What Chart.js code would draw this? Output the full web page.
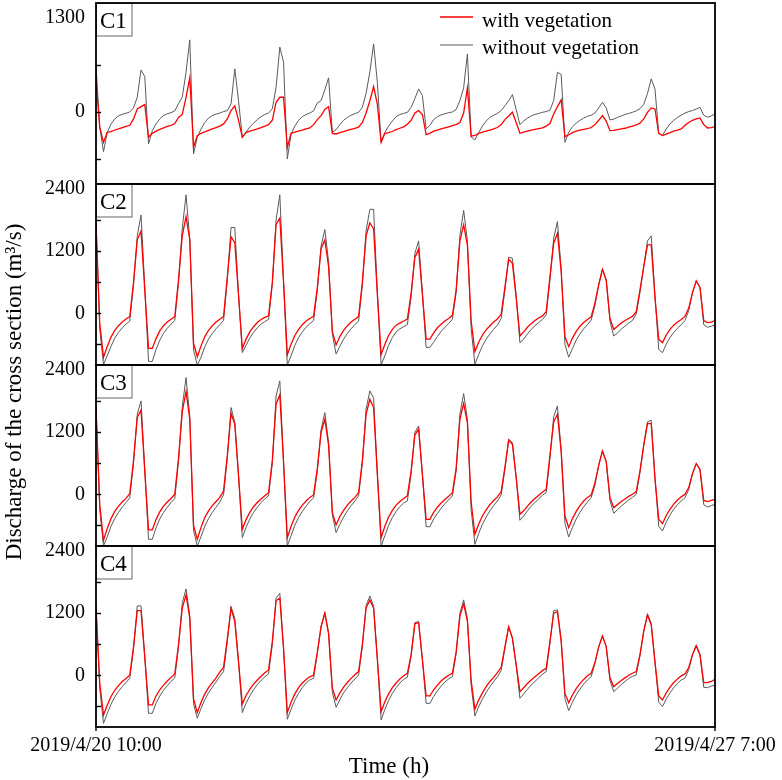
<!DOCTYPE html>
<html><head><meta charset="utf-8">
<script src="https://cdn.jsdelivr.net/npm/chart.js@4.4.0/dist/chart.umd.min.js"></script>
<style>html,body{margin:0;padding:0;background:#fff;} #wrap{position:relative;width:782px;height:780px;}</style>
</head><body><div id="wrap"><canvas id="c"></canvas></div>
<script>
const FONT = "'Liberation Serif', 'Times New Roman', serif";
const hours = []; for (let i = 0; i <= 165; i++) hours.push(i);
const xTickValues = [0, 165];
const xTickLabels = ['2019/4/20 10:00', '2019/4/27 7:00'];
const panelNames = ['C1', 'C2', 'C3', 'C4'];
const seriesNames = ['with vegetation', 'without vegetation'];
const c1Ticks = [-650, 0, 650, 1300];
const c1Labeled = [0, 1300];
const cTicks = [-600, 0, 600, 1200, 1800, 2400];
const cLabeled = [0, 1200, 2400];
const c1Range = [-1000, 1500];
const cRange = [-1000, 2500];
const yTitle = 'Discharge of the cross section (m\u00B3/s)';
const xTitle = 'Time (h)';

const R1 = [429,-217,-424,-286,-277,-254,-240,-221,-203,-189,
-101,37,69,97,-355,-300,-270,-245,-225,-205,
-190,-165,-80,-40,198,466,-493,-332,-300,-280,
-260,-240,-220,-200,-170,-101,14,78,-120,-355,
-290,-270,-255,-240,-220,-200,-180,-120,129,198,
198,-493,-300,-285,-270,-255,-240,-225,-180,-110,
-55,30,69,-300,-309,-290,-275,-260,-245,-230,
-215,-150,-20,150,346,100,-424,-300,-290,-275,
-250,-230,-210,-175,-120,-20,14,-40,-318,-300,
-270,-255,-240,-225,-210,-195,-180,-150,-20,327,
-340,-330,-300,-285,-270,-255,-240,-220,-180,-110,
-60,-9,-150,-300,-285,-270,-255,-245,-235,-225,
-200,-165,-32,69,161,-346,-320,-290,-270,-255,
-245,-235,-220,-180,-120,-55,-130,-263,-260,-250,
-240,-230,-215,-200,-185,-160,-100,-10,51,37,
-300,-330,-310,-290,-270,-255,-240,-190,-150,-120,
-100,-88,-180,-226,-220,-207];
const G1 = [636,-217,-553,-286,-171,-101,-60,-37,-23,-5,
50,200,576,484,-447,-263,-171,-101,-55,-30,
-15,10,110,200,544,991,-585,-355,-240,-150,
-90,-55,-35,-20,0,14,106,590,150,-355,
-286,-210,-160,-110,-70,-40,-20,40,336,890,
682,-655,-309,-200,-120,-70,-40,-20,10,120,
152,300,466,-286,-250,-180,-120,-80,-50,-30,
-10,60,250,550,936,400,-424,-286,-200,-130,
-70,-40,-25,-10,60,180,313,221,-240,-190,
-110,-70,-45,-30,-15,-5,30,150,330,797,
-350,-392,-290,-200,-130,-80,-50,-25,14,80,
150,235,30,-180,-130,-90,-60,-40,-25,-10,
0,20,152,544,512,-424,-286,-210,-160,-120,
-90,-65,-50,-20,50,129,50,-115,-105,-80,
-60,-40,-25,-10,10,40,100,250,452,313,
-300,-330,-240,-170,-120,-80,-50,-20,0,15,
35,60,-50,-78,-60,-32];
const R2 = [1750,-200,-850,-640,-460,-330,-240,-170,-110,-65,
600,1420,1590,450,-680,-680,-490,-340,-240,-170,
-115,-65,650,1500,1870,1420,-580,-840,-630,-450,
-330,-240,-170,-115,-65,700,1480,1360,340,-680,
-500,-360,-260,-180,-120,-80,-50,600,1720,1840,
600,-800,-600,-430,-310,-220,-150,-100,-60,500,
1250,1420,900,-350,-610,-450,-330,-240,-170,-115,
-65,600,1500,1750,1630,360,-800,-600,-430,-310,
-230,-190,-150,-110,390,1080,1240,370,-500,-500,
-380,-280,-210,-150,-100,-40,450,1400,1710,1320,
-150,-740,-560,-420,-320,-240,-170,-110,-15,500,
1045,968,300,-440,-360,-270,-200,-140,-90,-50,
30,700,1355,1548,800,-450,-645,-480,-350,-250,
-180,-120,-70,200,550,851,640,-100,-310,-250,
-190,-140,-100,-60,30,450,900,1322,1322,300,
-500,-568,-420,-310,-230,-170,-120,-60,100,400,
626,500,-140,-180,-170,-142];
const G2 = [1750,-300,-990,-820,-640,-480,-370,-280,-210,-150,
550,1500,1900,500,-930,-930,-700,-520,-390,-290,
-210,-140,600,1650,2290,1420,-710,-1000,-850,-650,
-500,-390,-300,-220,-140,650,1660,1660,360,-760,
-620,-480,-370,-280,-210,-160,-120,560,1800,2290,
600,-1000,-820,-620,-470,-360,-270,-200,-140,450,
1300,1620,1000,-400,-790,-640,-500,-390,-300,-220,
-150,550,1600,2010,2010,400,-1000,-820,-620,-470,
-360,-300,-260,-220,320,1160,1400,390,-660,-660,
-560,-450,-350,-270,-200,-115,400,1500,1990,1400,
-300,-985,-800,-630,-500,-400,-310,-230,-100,450,
1084,1064,350,-570,-500,-400,-310,-240,-180,-120,
-30,650,1450,1774,850,-600,-850,-680,-520,-400,
-300,-220,-130,150,550,851,640,-150,-440,-380,
-310,-250,-190,-140,-15,400,900,1400,1496,350,
-700,-761,-600,-470,-370,-290,-220,-140,50,400,
626,500,-220,-271,-250,-226];
const R3 = [1680,-200,-890,-660,-470,-330,-230,-150,-80,10,
650,1484,1625,450,-690,-690,-490,-340,-230,-150,
-80,0,700,1600,1987,1450,-600,-870,-640,-450,
-320,-220,-140,-60,60,750,1561,1355,350,-677,
-490,-350,-240,-160,-90,-30,30,650,1742,1922,
600,-838,-620,-440,-310,-210,-130,-60,-13,500,
1200,1451,950,-350,-593,-430,-310,-210,-130,-60,
30,650,1550,1838,1677,380,-838,-620,-440,-310,
-210,-140,-80,-30,450,1150,1258,380,-484,-484,
-350,-250,-170,-100,-40,30,500,1450,1754,1380,
-150,-774,-580,-420,-300,-200,-120,-50,50,520,
1045,968,320,-387,-320,-230,-150,-80,-20,40,
97,750,1400,1548,820,-420,-645,-470,-330,-220,
-130,-60,-13,220,560,838,630,-60,-258,-200,
-140,-90,-40,0,52,450,950,1367,1367,300,
-480,-568,-410,-290,-190,-110,-50,0,130,400,
593,480,-120,-142,-120,-97];
const G3 = [1700,-300,-1000,-820,-620,-470,-350,-250,-160,-70,
600,1550,1806,480,-870,-870,-650,-480,-350,-250,
-160,-80,650,1700,2258,1500,-700,-1000,-820,-620,
-470,-350,-250,-150,-10,700,1677,1387,360,-838,
-640,-480,-350,-250,-160,-90,-30,600,1900,2193,
620,-1000,-800,-600,-450,-330,-230,-140,-65,450,
1250,1580,1000,-400,-742,-580,-440,-320,-220,-130,
-30,600,1650,2000,1858,400,-1000,-800,-600,-450,
-330,-240,-170,-129,400,1200,1322,390,-626,-626,
-480,-370,-270,-180,-110,-32,450,1550,1948,1450,
-300,-968,-760,-580,-440,-320,-220,-130,-13,480,
1064,1000,340,-503,-420,-320,-230,-160,-90,-20,
32,700,1500,1709,850,-560,-826,-640,-480,-350,
-240,-150,-65,180,560,838,630,-120,-368,-300,
-230,-170,-110,-60,0,420,950,1400,1432,330,
-620,-710,-540,-400,-290,-200,-130,-65,90,400,
593,480,-200,-245,-220,-194];
const R4 = [1330,-150,-768,-580,-410,-290,-200,-120,-60,0,
550,1251,1251,350,-574,-574,-400,-280,-190,-110,
-40,26,600,1300,1554,1100,-450,-722,-520,-360,
-240,-140,-50,60,155,700,1296,1038,250,-555,
-390,-270,-170,-90,-20,50,103,650,1445,1490,
500,-722,-520,-360,-240,-150,-80,-30,6,450,
940,1200,800,-250,-477,-340,-230,-140,-60,10,
71,600,1300,1458,1296,300,-703,-510,-360,-240,
-150,-70,-10,39,400,1000,1019,300,-400,-400,
-280,-190,-110,-50,0,39,450,1150,1380,1050,
-100,-658,-480,-340,-220,-120,-40,50,155,550,
942,716,200,-316,-240,-160,-90,-30,30,90,
135,650,1200,1232,650,-350,-529,-380,-260,-160,
-80,-10,39,250,550,761,555,-50,-219,-160,
-100,-50,0,40,71,400,850,1167,974,250,
-400,-477,-340,-230,-140,-70,-10,26,150,400,
568,393,-142,-142,-120,-77];
const G4 = [1340,-250,-929,-740,-560,-420,-310,-220,-140,-58,
500,1342,1342,370,-735,-735,-540,-400,-290,-200,
-120,-50,550,1400,1670,1150,-550,-832,-640,-470,
-340,-230,-130,-20,71,650,1329,1100,260,-722,
-540,-400,-280,-180,-100,-30,26,600,1490,1587,
520,-851,-660,-480,-350,-240,-150,-90,-58,420,
950,1213,820,-330,-619,-470,-340,-240,-150,-70,
6,560,1350,1535,1330,320,-864,-660,-490,-350,
-240,-150,-80,-39,380,1019,1038,310,-542,-542,
-410,-300,-210,-130,-70,-26,420,1200,1458,1100,
-200,-787,-610,-460,-330,-220,-120,-30,90,520,
942,716,200,-445,-360,-270,-190,-120,-50,20,
71,620,1250,1264,680,-450,-684,-520,-380,-270,
-170,-90,-26,230,550,761,555,-100,-316,-250,
-180,-120,-60,-20,6,380,850,1187,1000,270,
-520,-606,-460,-340,-240,-160,-90,-58,110,400,
587,400,-232,-240,-210,-187];

const withVeg = [R1, R2, R3, R4];
const withoutVeg = [G1, G2, G3, G4];
const RED = '#ff0000', GRAY = '#5a5a5a';

function toXY(arr) { return arr.map((v, i) => ({ x: hours[i], y: v })); }

const datasets = [];
for (let p = 0; p < 4; p++) {
  datasets.push({ label: seriesNames[0], data: toXY(withVeg[p]), yAxisID: 'y' + (p + 1),
    borderColor: RED, borderWidth: 1.3, pointRadius: 0, tension: 0, fill: false, order: 0 });
  datasets.push({ label: seriesNames[1], data: toXY(withoutVeg[p]), yAxisID: 'y' + (p + 1),
    borderColor: GRAY, borderWidth: 1.0, pointRadius: 0, tension: 0, fill: false, order: 1 });
}

function yScale(range, ticks, labeled, weight) {
  return {
    type: 'linear', position: 'left', stack: 'panels', stackWeight: 1, weight: weight,
    min: range[0], max: range[1],
    grid: { display: false, drawTicks: false }, border: { display: false },
    afterBuildTicks: s => { s.ticks = ticks.map(v => ({ value: v })); },
    afterFit: s => { s.width = 96; s.paddingTop = 0; s.paddingBottom = 0; },
    ticks: { autoSkip: false, padding: 11, color: '#000', font: { family: FONT, size: 20 },
      callback: v => labeled.includes(v) ? String(v) : '' }
  };
}

const panelPlugin = {
  id: 'panelDecor',
  afterDraw(chart) {
    const ctx = chart.ctx, a = chart.chartArea;
    ctx.save();
    for (let p = 0; p < 4; p++) {
      const s = chart.scales['y' + (p + 1)];
      ctx.strokeStyle = '#000'; ctx.lineWidth = 1.4;
      s.ticks.forEach(t => {
        const y = Math.round(s.getPixelForValue(t.value)) + 0.5;
        ctx.beginPath(); ctx.moveTo(a.left, y); ctx.lineTo(a.left + 5, y); ctx.stroke();
      });
      ctx.fillStyle = '#fff'; ctx.fillRect(a.left, s.top, 36, 33);
      ctx.strokeStyle = '#666'; ctx.lineWidth = 1;
      ctx.strokeRect(a.left + 0.5, s.top + 0.5, 35.5, 32.5);
      ctx.fillStyle = '#000'; ctx.font = '23px ' + FONT; ctx.textAlign = 'left'; ctx.textBaseline = 'alphabetic';
      ctx.fillText(panelNames[p], a.left + 4, s.top + 25);
      ctx.strokeStyle = '#000'; ctx.lineWidth = 1.8;
      ctx.strokeRect(a.left, s.top, a.right - a.left, s.bottom - s.top);
    }
    const xs = chart.scales.x;
    ctx.lineWidth = 1.4;
    xTickValues.forEach(v => {
      const x = xs.getPixelForValue(v);
      ctx.beginPath(); ctx.moveTo(x, a.bottom); ctx.lineTo(x, a.bottom + 4); ctx.stroke();
    });
    const legendY = [17, 45], textY = [26.7, 53.6], cols = [RED, GRAY], widths = [1.3, 1.0];
    ctx.font = '21px ' + FONT; ctx.fillStyle = '#000'; ctx.textAlign = 'left'; ctx.textBaseline = 'alphabetic';
    for (let k = 0; k < 2; k++) {
      ctx.strokeStyle = cols[k]; ctx.lineWidth = widths[k];
      ctx.beginPath(); ctx.moveTo(440, legendY[k]); ctx.lineTo(473, legendY[k]); ctx.stroke();
      ctx.fillText(seriesNames[k], 482, textY[k]);
    }
    ctx.font = '23px ' + FONT; ctx.textAlign = 'center'; ctx.textBaseline = 'middle';
    ctx.fillText(xTitle, 389, 767);
    ctx.translate(15, 392); ctx.rotate(-Math.PI / 2);
    ctx.fillText(yTitle, 0, 0);
    ctx.restore();
  }
};

new Chart(document.getElementById('c'), {
  type: 'line',
  data: { datasets: datasets },
  options: {
    responsive: true, maintainAspectRatio: false, animation: false,
    layout: { padding: { left: 0, right: 67, top: 3, bottom: 0 } },
    plugins: { legend: { display: false }, tooltip: { enabled: false } },
    scales: {
      x: { type: 'linear', position: 'bottom', min: 0, max: 165,
        grid: { display: false, drawTicks: false }, border: { display: false },
        afterBuildTicks: s => { s.ticks = xTickValues.map(v => ({ value: v })); },
        afterFit: s => { s.height = 53; s.paddingLeft = 0; s.paddingRight = 0; },
        ticks: { autoSkip: false, maxRotation: 0, minRotation: 0, padding: 7, color: '#000',
          font: { family: FONT, size: 20 },
          callback: v => { const k = xTickValues.indexOf(v); return k >= 0 ? xTickLabels[k] : ''; } } },
      y1: yScale(c1Range, c1Ticks, c1Labeled, 4),
      y2: yScale(cRange, cTicks, cLabeled, 3),
      y3: yScale(cRange, cTicks, cLabeled, 2),
      y4: yScale(cRange, cTicks, cLabeled, 1)
    }
  },
  plugins: [panelPlugin]
});
</script>
</body></html>
